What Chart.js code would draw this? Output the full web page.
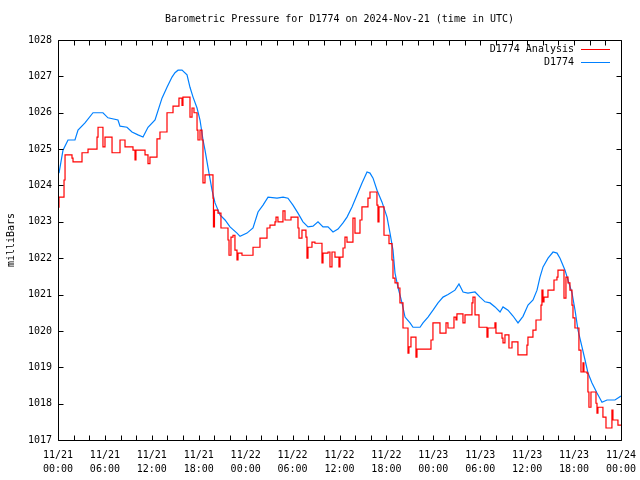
<!DOCTYPE html>
<html>
<head>
<meta charset="utf-8">
<script src="https://cdn.jsdelivr.net/npm/chart.js@4"></script>
<style>
html,body{margin:0;padding:0;background:#fff;}
#wrap{width:640px;height:480px;position:relative;}
</style>
</head>
<body>
<div id="wrap"><canvas id="c" width="640" height="480"></canvas></div>
<script>
// ---- data (hours since 2024-11-21 00:00 UTC) ----
const tickDays  = ['11/21','11/21','11/21','11/21','11/22','11/22','11/22','11/22','11/23','11/23','11/23','11/23','11/24'];
const tickTimes = ['00:00','06:00','12:00','18:00','00:00','06:00','12:00','18:00','00:00','06:00','12:00','18:00','00:00'];

const obsHours = [0.13,0.64,1.28,2.17,2.56,3.45,4.48,5.75,6.39,7.67,7.93,8.82,9.46,10.23,10.87,11.51,12.41,13.3,13.94,14.58,14.96,15.35,15.86,16.5,16.88,17.27,17.78,18.16,18.55,18.8,19.18,19.7,20.08,20.72,21.36,22.0,22.89,23.28,24.17,24.94,25.58,26.22,26.86,28.01,28.78,29.41,30.05,30.69,31.33,31.97,32.61,33.25,33.89,34.53,35.17,35.81,36.45,36.96,37.6,38.24,38.88,39.52,39.9,40.29,40.8,41.44,42.08,42.46,42.84,43.1,43.48,43.99,44.38,45.02,45.4,46.3,46.68,47.32,47.96,48.6,49.24,49.88,50.77,51.28,51.8,52.43,53.33,53.97,54.61,55.25,55.89,56.53,56.91,57.55,58.19,58.83,59.47,60.11,60.75,61.26,61.64,62.03,62.67,63.31,63.82,64.2,64.84,65.22,65.74,66.12,66.5,67.01,67.4,67.78,68.29,68.93,69.57,70.21,71.23,72.0];
const obsValues = [1024.34,1024.97,1025.25,1025.25,1025.52,1025.72,1026.0,1026.0,1025.86,1025.8,1025.63,1025.6,1025.47,1025.39,1025.33,1025.6,1025.8,1026.4,1026.7,1026.98,1027.1,1027.17,1027.17,1027.04,1026.7,1026.43,1026.13,1025.8,1025.25,1024.97,1024.5,1023.87,1023.52,1023.19,1023.05,1022.86,1022.69,1022.6,1022.69,1022.83,1023.27,1023.46,1023.68,1023.65,1023.68,1023.65,1023.46,1023.24,1023.0,1022.86,1022.88,1023.0,1022.86,1022.86,1022.72,1022.8,1022.97,1023.13,1023.41,1023.74,1024.07,1024.37,1024.34,1024.2,1023.87,1023.54,1023.13,1022.69,1022.22,1021.59,1021.2,1020.77,1020.38,1020.22,1020.1,1020.1,1020.22,1020.38,1020.57,1020.77,1020.93,1021.0,1021.12,1021.29,1021.07,1021.04,1021.07,1020.93,1020.8,1020.77,1020.66,1020.52,1020.66,1020.57,1020.41,1020.22,1020.4,1020.71,1020.85,1021.12,1021.48,1021.76,1022.0,1022.17,1022.14,1022.0,1021.67,1021.4,1021.04,1020.57,1020.02,1019.56,1019.2,1018.84,1018.57,1018.29,1018.04,1018.1,1018.1,1018.21];

const anaHours = [0,0.13,0.77,0.9,1.79,1.92,3.07,3.84,4.99,5.12,5.75,6.01,6.91,7.93,8.57,9.59,9.85,9.97,11.13,11.51,11.76,12.66,13.04,13.94,14.71,15.47,15.86,15.98,16.88,17.14,17.39,17.78,17.9,18.16,18.41,18.54,18.8,19.82,19.88,20.01,20.46,20.84,21.74,21.87,22.12,22.38,22.63,22.89,23.02,23.53,24.94,25.83,26.73,27.11,27.75,27.88,28.13,28.77,29.03,29.8,30.69,30.82,31.2,31.71,31.84,31.97,32.48,32.86,33.76,33.89,34.53,34.78,35.04,35.42,35.93,36.06,36.45,36.7,36.96,37.72,37.98,38.62,38.87,39.64,39.9,40.79,40.92,41.05,41.69,42.33,42.71,42.84,43.1,43.48,43.73,44.12,44.76,44.88,45.14,45.78,45.91,47.7,47.95,48.85,49.62,49.87,50.64,50.9,51.02,51.79,52.05,52.94,53.07,53.33,53.84,54.86,54.99,55.88,56.01,56.78,56.91,57.16,57.67,58.06,58.82,59.97,60.1,60.74,61.13,61.77,61.89,62.02,62.15,62.66,63.43,63.81,63.94,64.71,64.96,65.22,65.47,65.73,65.86,66.11,66.62,66.88,67.14,67.26,67.65,67.77,67.9,68.16,68.8,68.93,69.05,69.69,70.08,70.84,70.97,71.61,72.0];
const anaValues = [1023.4,1023.68,1024.15,1024.84,1024.75,1024.65,1024.9,1025.0,1025.33,1025.6,1025.06,1025.33,1024.9,1025.25,1025.06,1024.97,1024.7,1024.97,1024.84,1024.6,1024.78,1025.28,1025.47,1026.0,1026.18,1026.4,1026.2,1026.43,1025.88,1026.13,1026.0,1025.52,1025.25,1025.52,1025.25,1024.07,1024.29,1023.65,1022.86,1023.32,1023.24,1022.83,1022.5,1022.08,1022.58,1022.63,1022.22,1021.95,1022.14,1022.08,1022.3,1022.55,1022.83,1022.91,1023.0,1023.13,1023.0,1023.3,1023.05,1023.13,1022.83,1022.55,1022.77,1022.58,1022.0,1022.3,1022.44,1022.41,1021.87,1022.14,1022.17,1021.76,1022.17,1022.03,1021.76,1022.03,1022.28,1022.58,1022.44,1023.1,1022.69,1023.05,1023.41,1023.65,1023.82,1023.46,1023.0,1023.41,1022.63,1022.4,1021.95,1021.45,1021.32,1021.18,1020.77,1020.08,1019.39,1019.56,1019.83,1019.28,1019.5,1019.75,1020.22,1019.94,1020.22,1020.08,1020.38,1020.3,1020.47,1020.22,1020.44,1020.77,1020.93,1020.44,1020.1,1019.83,1020.08,1020.22,1019.94,1019.8,1019.67,1019.89,1019.53,1019.7,1019.34,1019.61,1019.83,1020.02,1020.3,1020.71,1021.12,1020.8,1020.93,1021.12,1021.4,1021.48,1021.67,1020.9,1021.48,1021.32,1021.12,1020.71,1020.36,1020.08,1019.47,1018.87,1019.12,1018.87,1018.84,1018.32,1017.9,1018.32,1018.01,1017.74,1017.9,1017.63,1017.33,1017.82,1017.55,1017.41,1017.41];

const seriesNames = ['D1774 Analysis','D1774'];
const seriesColors = ['#ff0000','#0080ff'];
const titleText = 'Barometric Pressure for D1774 on 2024-Nov-21 (time in UTC)';
const yTitle = 'milliBars';

const FONT = '"DejaVu Sans Mono", "Liberation Mono", monospace';

const framePlugin = {
  id: 'frame',
  afterDraw(chart) {
    const ctx = chart.ctx;
    const a = chart.chartArea;
    const xs = chart.scales.x, ys = chart.scales.y;
    ctx.save();
    ctx.strokeStyle = '#000';
    ctx.lineWidth = 1;
    const L = Math.round(a.left) + 0.5, R = Math.round(a.right) + 0.5;
    const T = Math.round(a.top) + 0.5, B = Math.round(a.bottom) + 0.5;
    ctx.beginPath();
    ctx.rect(L, T, R - L, B - T);
    for (let h = 0; h <= 72; h += 2) {
      const px = Math.round(xs.getPixelForValue(h)) + 0.5;
      ctx.moveTo(px, B); ctx.lineTo(px, B - 5);
      ctx.moveTo(px, T); ctx.lineTo(px, T + 5);
    }
    for (let v = 1017; v <= 1028; v++) {
      const py = Math.round(ys.getPixelForValue(v)) + 0.5;
      ctx.moveTo(L, py); ctx.lineTo(L + 5, py);
      ctx.moveTo(R, py); ctx.lineTo(R - 5, py);
    }
    ctx.stroke();
    ctx.fillStyle = '#000';
    ctx.font = '10px ' + FONT;
    ctx.textAlign = 'center';
    ctx.textBaseline = 'middle';
    ctx.fillText(titleText, (a.left + a.right) / 2, 19);
    ctx.save();
    ctx.translate(11, (a.top + a.bottom) / 2);
    ctx.rotate(-Math.PI / 2);
    ctx.fillText(yTitle, 0, 0);
    ctx.restore();
    ctx.textAlign = 'right';
    const rows = [49, 62];
    for (let i = 0; i < 2; i++) {
      ctx.fillStyle = '#000';
      ctx.fillText(seriesNames[i], 574, rows[i]);
      ctx.strokeStyle = seriesColors[i];
      ctx.beginPath();
      ctx.moveTo(581, rows[i] + 0.5);
      ctx.lineTo(610, rows[i] + 0.5);
      ctx.stroke();
    }
    ctx.restore();
  }
};

new Chart(document.getElementById('c'), {
  type: 'line',
  data: {
    datasets: [
      {
        label: seriesNames[0],
        data: anaHours.map((h, i) => ({x: h, y: anaValues[i]})),
        borderColor: seriesColors[0],
        borderWidth: 1.2,
        pointRadius: 0,
        stepped: 'before',
        fill: false
      },
      {
        label: seriesNames[1],
        data: obsHours.map((h, i) => ({x: h, y: obsValues[i]})),
        borderColor: seriesColors[1],
        borderWidth: 1.2,
        pointRadius: 0,
        tension: 0,
        fill: false
      }
    ]
  },
  options: {
    responsive: false,
    animation: false,
    layout: { padding: { top: 40, right: 19, left: 0, bottom: 0 } },
    plugins: { legend: { display: false }, tooltip: { enabled: false }, title: { display: false } },
    scales: {
      x: {
        type: 'linear',
        min: 0, max: 72,
        grid: { display: false, drawTicks: false },
        border: { display: false },
        afterFit: s => { s.height = 40; s.paddingLeft = 0; s.paddingRight = 0; },
        afterBuildTicks: s => { s.ticks = tickDays.map((d, i) => ({ value: i * 6 })); },
        ticks: {
          autoSkip: false, maxRotation: 0, minRotation: 0,
          padding: 8,
          color: '#000',
          font: { family: FONT, size: 10, lineHeight: 1.45 },
          callback: (v) => { const i = Math.round(v / 6); return [tickDays[i], tickTimes[i]]; }
        }
      },
      y: {
        min: 1017, max: 1028,
        grid: { display: false, drawTicks: false },
        border: { display: false },
        afterFit: s => { s.width = 58; s.paddingTop = 0; s.paddingBottom = 0; },
        ticks: {
          stepSize: 1,
          padding: 6,
          color: '#000',
          font: { family: FONT, size: 10 },
          callback: v => String(v)
        }
      }
    }
  },
  plugins: [framePlugin]
});
</script>
</body>
</html>
